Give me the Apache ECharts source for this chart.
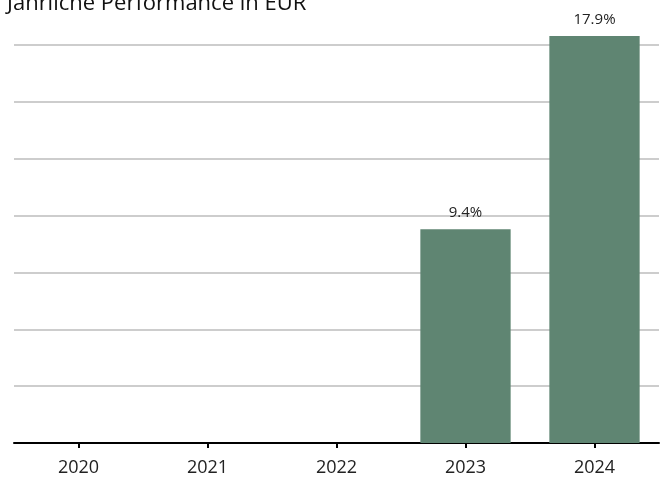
<!DOCTYPE html>
<html><head><meta charset="utf-8">
<script src="https://cdn.jsdelivr.net/npm/echarts@6/dist/echarts.min.js"></script>
<style>html,body{margin:0;padding:0;background:#fff}#c{width:665px;height:478px}</style>
</head><body><div id="c"></div>
<script>
const categories = ['2020', '2021', '2022', '2023', '2024'];
const performance = [null, null, null, 9.4, 17.9];
const titleText = 'Jährliche Performance in EUR';

const chart = echarts.init(document.getElementById('c'), null, {renderer: 'canvas'});
chart.setOption({
  animation: false,
  textStyle: {fontFamily: 'Open Sans'},
  title: {
    text: titleText, left: 2, top: -12,
    textStyle: {fontSize: 22, fontWeight: 'normal', color: '#111', fontFamily: 'Open Sans'}
  },
  grid: {left: 14, right: 6, top: 45, bottom: 35, containLabel: false},
  xAxis: {
    type: 'category', data: categories,
    axisLine: {lineStyle: {color: '#000', width: 2}},
    axisTick: {show: true, alignWithLabel: true, length: 5, lineStyle: {color: '#000', width: 2}},
    axisLabel: {fontSize: 18, color: '#222', margin: 16}
  },
  yAxis: {
    type: 'value', min: 0, max: 17.5, interval: 2.5,
    axisLabel: {show: false}, axisLine: {show: false}, axisTick: {show: false},
    splitLine: {lineStyle: {color: '#bdbdbd', width: 1.5}}
  },
  series: [{
    type: 'bar', data: performance, barWidth: '70%', clip: false,
    itemStyle: {color: '#5f8572'},
    label: {show: true, position: 'top', distance: 9, fontSize: 15, color: '#222',
      formatter: p => p.value.toFixed(1) + '%'}
  }]
});
</script></body></html>
